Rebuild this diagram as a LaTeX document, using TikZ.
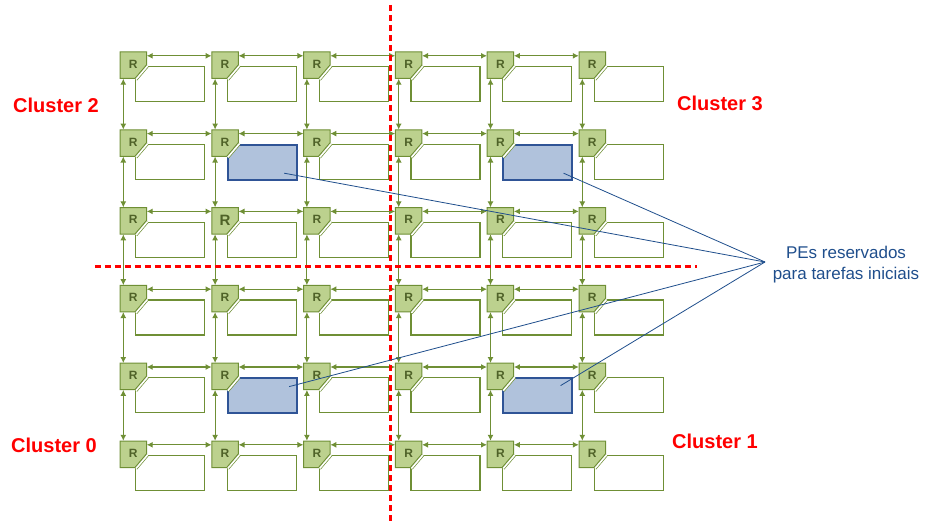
\documentclass[tikz,border=0pt]{standalone}
\usepackage{fontspec}
\setmainfont{Liberation Sans}
\usetikzlibrary{arrows.meta}

\definecolor{rfill}{HTML}{BCD18E}
\definecolor{rline}{HTML}{6F8F35}
\definecolor{rtext}{HTML}{4F6228}
\definecolor{pefill}{HTML}{B0C2DC}
\definecolor{peline}{HTML}{2F5496}
\definecolor{azul}{HTML}{1F4E8C}
\definecolor{vermelho}{HTML}{FF0000}

\tikzset{
  pe/.style={draw=rline, line width=1.2pt, fill=white, minimum width=69pt,
    minimum height=35pt, inner sep=0pt, anchor=north west},
  pesel/.style={pe, draw=peline, fill=pefill, line width=1.8pt},
  router/.style={minimum size=26.5pt, inner sep=0pt, text=rtext,
    font=\bfseries\fontsize{12}{12}\selectfont},
  link/.style={{Latex[length=6pt,width=6pt]}-{Latex[length=6pt,width=6pt]},
    rline, line width=1.1pt},
  divisa/.style={vermelho, line width=3pt, dash pattern=on 6pt off 4pt},
  cluster/.style={text=vermelho, font=\bfseries\fontsize{20}{24}\selectfont},
  ponteiro/.style={azul, line width=0.8pt},
}

\begin{document}
\begin{tikzpicture}[x=1pt, y=-1pt]
    \useasboundingbox (0,0) rectangle (928,524);

    % PEs e roteadores
    \foreach \r in {1,...,6}{
      \foreach \c in {1,...,6}{
        \pgfmathsetmacro{\x}{120+91.8*(\c-1)}
        \pgfmathsetmacro{\y}{52+77.8*(\r-1)}
        \pgfmathtruncatemacro{\sel}{((\r==2)||(\r==5))&&((\c==2)||(\c==5))}
        \ifnum\sel=1
          \node[pesel] (P-\r-\c) at (\x+15,\y+14) {};
        \else
          \node[pe] (P-\r-\c) at (\x+15,\y+14) {};
        \fi
        \fill[rfill, draw=rline, line width=1pt] (\x,\y) -- (\x+26.5,\y)
          -- (\x+26.5,\y+13) -- (\x+15,\y+26.5) -- (\x,\y+26.5) -- cycle;
        \draw[rline, double=white, double distance=1.6pt, line width=0.7pt]
          (\x+27.5,\y+14) -- (\x+16,\y+27.5);
        \ifnum\r\c=32
          \node[router, font=\bfseries\fontsize{15}{15}\selectfont] (R-\r-\c)
            at (\x+13.25,\y+13.25) {\raisebox{2pt}{R}\hspace{7pt}};
        \else
          \node[router] (R-\r-\c) at (\x+13.25,\y+13.25) {\raisebox{2pt}{R}\hspace{7pt}};
        \fi
      }
    }

    % Ligacoes horizontais
    \foreach \r in {1,...,6}{
      \foreach \c [evaluate=\c as \n using int(\c+1)] in {1,...,5}{
        \draw[link] ([yshift=-4pt]R-\r-\c.north east) -- ([yshift=-4pt]R-\r-\n.north west);
      }
    }

    % Ligacoes verticais
    \foreach \r [evaluate=\r as \n using int(\r+1)] in {1,...,5}{
      \foreach \c in {1,...,6}{
        \draw[link] ([xshift=3.5pt]R-\r-\c.south west) -- ([xshift=3.5pt]R-\n-\c.north west);
      }
    }

    % Divisao dos clusters
    \draw[divisa] (390,5) -- (390,524);
    \draw[divisa] (95,266) -- (697,266);

    \node[cluster] (C2) at (56,105) {Cluster 2};
    \node[cluster] (C3) at (720,103) {Cluster 3};
    \node[cluster] (C0) at (54,445) {Cluster 0};
    \node[cluster] (C1) at (715,441) {Cluster 1};

    % PEs reservados
    \node[align=center, text=azul, font=\fontsize{17}{21}\selectfont] (lbl)
      at (846,265) {PEs reservados\\para tarefas iniciais};
    \coordinate (foco) at (765,262);
    \draw[ponteiro] ([shift={(22,11)}]P-2-2.center) -- (foco);
    \draw[ponteiro] ([shift={(26,11)}]P-2-5.center) -- (foco);
    \draw[ponteiro] ([shift={(27,-9)}]P-5-2.center) -- (foco);
    \draw[ponteiro] ([shift={(23,-10)}]P-5-5.center) -- (foco);
\end{tikzpicture}
\end{document}
